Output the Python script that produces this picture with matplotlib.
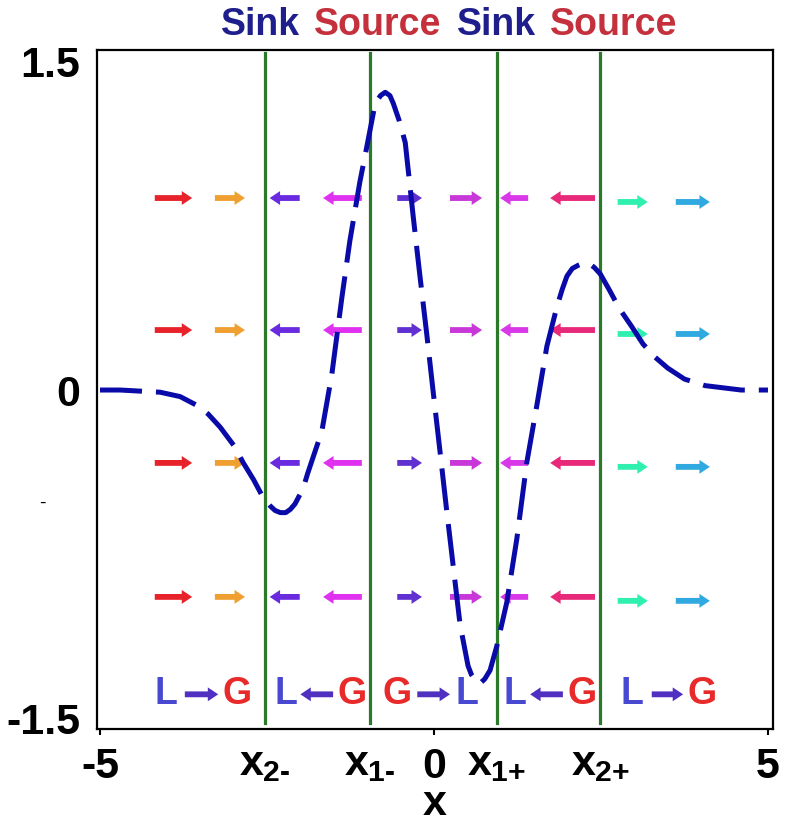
import matplotlib
matplotlib.use('Agg')
import matplotlib.pyplot as plt

plt.rcParams['font.family'] = ['Liberation Sans', 'DejaVu Sans']
plt.rcParams['font.weight'] = 'bold'
plt.rcParams['mathtext.fontset'] = 'custom'
plt.rcParams['mathtext.rm'] = 'Liberation Sans:bold'
plt.rcParams['mathtext.it'] = 'Liberation Sans:bold'
plt.rcParams['mathtext.bf'] = 'Liberation Sans:bold'

# dashed curve
curve_x = [-5.0, -4.7, -4.4, -4.1, -3.8, -3.55, -3.38, -3.2, -2.98, -2.86,
           -2.7, -2.56, -2.53,
           -2.45, -2.38, -2.30, -2.22, -2.15, -2.08, -1.96, -1.89, -1.78,
           -1.68, -1.53, -1.38, -1.26, -1.11, -1.00, -0.88, -0.80, -0.73,
           -0.66, -0.61, -0.52, -0.43, -0.31, -0.21, -0.11, -0.015, 0.09,
           0.19, 0.29, 0.39, 0.51, 0.56, 0.65, 0.69, 0.76, 0.84, 0.94,
           1.09, 1.24, 1.39, 1.54, 1.69, 1.84, 1.92, 1.99, 2.07, 2.16, 2.24,
           2.31, 2.40, 2.49, 2.62, 2.78, 2.96, 3.13, 3.31, 3.50, 3.75, 4.06,
           4.33, 4.6, 5.0]
curve_y = [0.0, 0.0, -0.005, -0.01, -0.03, -0.07, -0.11, -0.17, -0.26, -0.33,
           -0.41, -0.49, -0.50,
           -0.53, -0.55, -0.56, -0.56, -0.545, -0.52, -0.45, -0.38, -0.28,
           -0.19, 0.07, 0.42, 0.68, 0.95, 1.12, 1.31, 1.345, 1.36,
           1.345, 1.31, 1.23, 1.13, 0.79, 0.52, 0.26, 0.0, -0.28,
           -0.55, -0.81, -1.07, -1.26, -1.30, -1.34, -1.34, -1.32, -1.28, -1.17,
           -0.97, -0.68, -0.33, -0.07, 0.20, 0.38, 0.46, 0.52, 0.555, 0.57, 0.58,
           0.58, 0.56, 0.53, 0.46, 0.37, 0.29, 0.21, 0.15, 0.10, 0.05, 0.02,
           0.01, 0.0, 0.0]

# region boundaries
boundary_x = [-2.53, -0.96, 0.94, 2.49]
tick_pos = [-5, -2.53, -0.96, 0, 0.94, 2.49, 5]
tick_text = ['-5', r'$x_{\text{2-}}$', r'$x_{\text{1-}}$', '0',
             r'$x_{\text{1+}}$', r'$x_{\text{2+}}$', '5']

region_titles = ['Sink', 'Source', 'Sink', 'Source']
title_x = [-2.60, -0.84, 0.93, 2.69]
title_colors = ['#1e1e8c', '#c4303c', '#1e1e8c', '#c4303c']

# flow arrows (same columns on every row)
arrow_rows = [0.877, 0.274, -0.333, -0.945]
arrow_tail = [-4.18, -3.28, -2.01, -1.08, -0.55, 0.24, 1.41, 2.41, 2.75, 3.62]
arrow_head = [-3.62, -2.83, -2.46, -1.66, -0.18, 0.72, 0.99, 1.74, 3.20, 4.13]
arrow_shift = [0, 0, 0, 0, 0, 0, 0, 0, -0.018, -0.018]
arrow_colors = ['#e8222a', '#f0a030', '#6a2be0', '#e030f0', '#6030d0',
                '#c838d8', '#d838e8', '#e82878', '#30f0b0', '#30a8e0']

# L / G row
lg_y = -1.39
lg_left = ['L', 'L', 'G', 'L', 'L']
lg_right = ['G', 'G', 'L', 'G', 'G']
lg_left_x = [-4.01, -2.22, -0.55, 1.21, 2.96]
lg_right_x = [-2.95, -1.23, 0.49, 2.22, 4.01]
lg_tail = [-3.73, -1.51, -0.25, 1.93, 3.26]
lg_head = [-3.23, -2.00, 0.24, 1.44, 3.73]
lg_colors = {'L': '#4848d0', 'G': '#e82a2a'}

fig = plt.figure(figsize=(7.95, 8.34), dpi=100)
ax = fig.add_axes([0.122, 0.126, 0.8503, 0.814])
ax.set_xlim(-5.045, 5.075)
ax.set_ylim(-1.548, 1.553)

for bx in boundary_x:
    ax.axvline(bx, ymin=0.009, ymax=0.995, color='#2a7a2a', lw=2.3, zorder=2)

ax.plot(curve_x, curve_y, color='#0a0aa8', lw=3.6, dashes=(8.4, 2.8),
        solid_capstyle='butt', dash_capstyle='butt', zorder=4)

arrow_style = 'simple,head_length=0.75,head_width=1.0,tail_width=0.42'
for ry in arrow_rows:
    for t, h, s, c in zip(arrow_tail, arrow_head, arrow_shift, arrow_colors):
        ax.annotate('', xy=(h, ry + s), xytext=(t, ry + s),
                    arrowprops=dict(arrowstyle=arrow_style, color=c,
                                    mutation_scale=10, shrinkA=0, shrinkB=0,
                                    lw=0),
                    zorder=3)

for a, b, xa, xb, t, h in zip(lg_left, lg_right, lg_left_x, lg_right_x,
                              lg_tail, lg_head):
    ax.text(xa, lg_y, a, color=lg_colors[a], fontsize=27, ha='center',
            va='center', zorder=5)
    ax.text(xb, lg_y, b, color=lg_colors[b], fontsize=27, ha='center',
            va='center', zorder=5)
    ax.annotate('', xy=(h, lg_y), xytext=(t, lg_y),
                arrowprops=dict(arrowstyle=arrow_style, color='#5030c0',
                                mutation_scale=10, shrinkA=0, shrinkB=0, lw=0),
                zorder=5)

for name, tx, tc in zip(region_titles, title_x, title_colors):
    ax.text(tx, 1.668, name, color=tc, fontsize=27, ha='center', va='center',
            clip_on=False)

# stray dash left of the y axis
ax.text(-5.87, -0.516, '-', fontsize=14, fontweight='normal', ha='center',
        va='center', clip_on=False)

ax.set_yticks([1.5, 0, -1.5], labels=['1.5', '0', '-1.5'])
ax.set_xticks([-5, 0, 5], labels=['-5', '0', '5'])
ax.set_xticks([p for p in tick_pos if p not in (-5, 0, 5)],
              labels=[t for p, t in zip(tick_pos, tick_text) if p not in (-5, 0, 5)],
              minor=True)
ax.tick_params(axis='y', length=0, pad=12, labelsize=31)
ax.tick_params(axis='x', which='major', length=4, width=1.5, pad=9, labelsize=31)
ax.tick_params(axis='x', which='minor', length=0, pad=11, labelsize=31)
ax.set_xlabel('x', fontsize=31, fontweight='bold', labelpad=-2)

for sp in ax.spines.values():
    sp.set_linewidth(1.6)

fig.savefig('out.png', dpi=100)
